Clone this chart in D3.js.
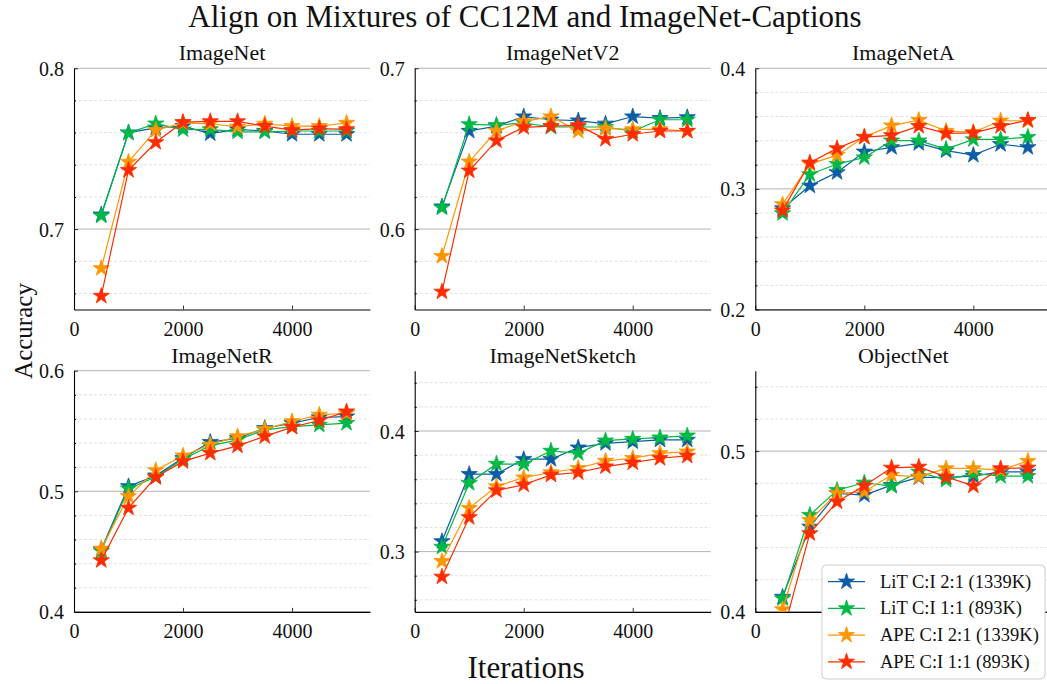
<!DOCTYPE html>
<html>
<head>
<meta charset="utf-8">
<script src="https://cdn.jsdelivr.net/npm/d3@7"></script>
<style>
  html, body { margin: 0; padding: 0; background: #fff; }
  svg { display: block; }
  svg text { font-family: "Liberation Serif", "DejaVu Serif", serif !important; fill: #111; }
</style>
</head>
<body>
<svg id="chart" width="1047" height="684"></svg>
<script>
// ---------------- DATA ----------------
const iterations = [500, 1000, 1500, 2000, 2500, 3000, 3500, 4000, 4500, 5000];
const seriesNames = ["LiT C:I 2:1 (1339K)", "LiT C:I 1:1 (893K)", "APE C:I 2:1 (1339K)", "APE C:I 1:1 (893K)"];
const seriesColors = ["#0C5DA5", "#00B945", "#FF9500", "#FF2C00"];
const panelTitles = ["ImageNet", "ImageNetV2", "ImageNetA", "ImageNetR", "ImageNetSketch", "ObjectNet"];
const xTicks = [0, 2000, 4000];

// each panel: [LiT 2:1, LiT 1:1, APE 2:1, APE 1:1]
const imageNet = [
  [0.709, 0.760, 0.763, 0.764, 0.7594, 0.762, 0.761, 0.7590, 0.759, 0.759],
  [0.7083, 0.7598, 0.7656, 0.7619, 0.762, 0.7605, 0.7605, 0.761, 0.761, 0.761],
  [0.6756, 0.7418, 0.7615, 0.766, 0.7655, 0.7636, 0.7655, 0.764, 0.764, 0.766],
  [0.6584, 0.7366, 0.754, 0.7665, 0.767, 0.767, 0.764, 0.7615, 0.7625, 0.762]
];
const imageNetV2 = [
  [0.614, 0.661, 0.664, 0.670, 0.668, 0.6675, 0.6655, 0.670, 0.669, 0.6695],
  [0.6133, 0.6651, 0.6647, 0.666, 0.6635, 0.6635, 0.6635, 0.661, 0.668, 0.668],
  [0.5832, 0.6419, 0.661, 0.667, 0.670, 0.661, 0.6625, 0.662, 0.662, 0.661],
  [0.561, 0.6363, 0.655, 0.6633, 0.664, 0.6645, 0.656, 0.659, 0.661, 0.661]
];
const imageNetA = [
  [0.2838, 0.3026, 0.3137, 0.3308, 0.3345, 0.3378, 0.3317, 0.328, 0.337, 0.3345],
  [0.2797, 0.312, 0.3206, 0.326, 0.340, 0.340, 0.333, 0.341, 0.341, 0.343],
  [0.2871, 0.3206, 0.328, 0.343, 0.3525, 0.357, 0.348, 0.347, 0.3565, 0.3565],
  [0.282, 0.3217, 0.3336, 0.343, 0.3444, 0.352, 0.346, 0.3464, 0.352, 0.357]
];
const imageNetR = [
  [0.4518, 0.5041, 0.513, 0.5275, 0.5408, 0.544, 0.5523, 0.5565, 0.5612, 0.562],
  [0.4504, 0.5022, 0.5118, 0.5267, 0.5377, 0.5427, 0.551, 0.5537, 0.555, 0.5565],
  [0.4523, 0.4959, 0.5174, 0.5295, 0.5386, 0.5455, 0.5515, 0.5579, 0.5634, 0.5647],
  [0.4427, 0.4862, 0.5116, 0.5248, 0.5317, 0.5377, 0.5455, 0.5532, 0.5587, 0.5661]
];
const imageNetSketch = [
  [0.3085, 0.3642, 0.3642, 0.3766, 0.3766, 0.3862, 0.3898, 0.3912, 0.3926, 0.3926],
  [0.3039, 0.3567, 0.3727, 0.3725, 0.3835, 0.3815, 0.392, 0.3934, 0.3945, 0.3961],
  [0.292, 0.3361, 0.354, 0.3614, 0.3656, 0.3691, 0.3752, 0.3774, 0.3815, 0.3829],
  [0.2791, 0.3284, 0.3507, 0.3554, 0.3636, 0.3656, 0.3705, 0.3738, 0.3774, 0.3793]
];
const objectNet = [
  [0.4093, 0.4529, 0.4737, 0.4726, 0.4788, 0.4836, 0.4836, 0.4844, 0.4871, 0.4871],
  [0.4083, 0.4602, 0.4757, 0.4803, 0.4782, 0.4871, 0.482, 0.4861, 0.4844, 0.4844],
  [0.4015, 0.457, 0.4737, 0.4747, 0.4851, 0.484, 0.4892, 0.4892, 0.4882, 0.4938],
  [0.386, 0.4488, 0.4685, 0.4784, 0.4896, 0.4902, 0.484, 0.4784, 0.4892, 0.4896]
];
const panelValues = [imageNet, imageNetV2, imageNetA, imageNetR, imageNetSketch, objectNet];
const yDomains = [[0.65, 0.8], [0.55, 0.7], [0.2, 0.4], [0.4, 0.6], [0.25, 0.45], [0.4, 0.55]];
const yMajorTicks = [[0.7, 0.8], [0.6, 0.7], [0.2, 0.3, 0.4], [0.4, 0.5, 0.6], [0.3, 0.4], [0.4, 0.5]];

// ---------------- LAYOUT ----------------
const FONT = '"Liberation Serif", "DejaVu Serif", serif';
const svg = d3.select("#chart");
const colLeft = [74, 414.7, 755.3];
const rowTop = [68.3, 370.7];
const pw = 296, ph = 241.2;
const star = d3.symbol().type(d3.symbolStar).size(82);
// legend box (drawn last, covers part of the ObjectNet panel)
const legendBox = { x: 822, y: 565, w: 223, h: 114 };

svg.append("text").attr("x", 525).attr("y", 27).attr("text-anchor", "middle")
  .style("font-family", FONT).style("font-size", "31px").text("Align on Mixtures of CC12M and ImageNet-Captions");
svg.append("text").attr("transform", "translate(31.5,331) rotate(-90)").attr("text-anchor", "middle")
  .style("font-family", FONT).style("font-size", "25px").text("Accuracy");
svg.append("text").attr("x", 526).attr("y", 678).attr("text-anchor", "middle")
  .style("font-family", FONT).style("font-size", "31px").text("Iterations");

panelTitles.forEach((title, i) => {
  const ox = colLeft[i % 3], oy = rowTop[Math.floor(i / 3)];
  const g = svg.append("g").attr("transform", `translate(${ox},${oy})`);
  const x = d3.scaleLinear().domain([0, 5430]).range([0, pw]);
  const y = d3.scaleLinear().domain(yDomains[i]).range([ph, 0]);

  const clipId = "clip" + i;
  g.append("clipPath").attr("id", clipId).append("rect")
    .attr("x", 0).attr("y", 0).attr("width", pw).attr("height", ph);

  // minor grid every 0.02
  const [d0, d1] = yDomains[i];
  const minor = d3.range(Math.round(d0 * 50), Math.round(d1 * 50) + 1)
    .map(k => k / 50)
    .filter(v => v > d0 + 1e-9 && v < d1 - 1e-9 && !yMajorTicks[i].some(m => Math.abs(m - v) < 1e-9));
  g.selectAll(".minor").data(minor).enter().append("line")
    .attr("x1", 0).attr("x2", pw).attr("y1", d => y(d)).attr("y2", d => y(d))
    .attr("stroke", "#d9d9d9").attr("stroke-width", 0.8).attr("stroke-dasharray", "3,2");
  g.selectAll(".major").data(yMajorTicks[i]).enter().append("line")
    .attr("x1", 0).attr("x2", pw).attr("y1", d => y(d)).attr("y2", d => y(d))
    .attr("stroke", "#b3b3b3").attr("stroke-width", 1);

  // axes (inward ticks)
  const yAxis = d3.axisLeft(y).tickValues(yMajorTicks[i]).tickFormat(d3.format(".1f"))
    .tickSizeInner(-4).tickSizeOuter(0).tickPadding(10);
  const ya = g.append("g").call(yAxis);
  const yMinorAxis = d3.axisLeft(y).tickValues(minor).tickFormat("").tickSizeInner(-2).tickSizeOuter(0);
  g.append("g").call(yMinorAxis).select(".domain").remove();
  // x tick labels that sit fully under the legend are hidden in the reference
  const xFmt = d => {
    const px = ox + x(d), py = oy + ph + 20;
    const under = px - 20 > legendBox.x && px + 20 < legendBox.x + legendBox.w &&
                  py > legendBox.y && py < legendBox.y + legendBox.h;
    return under ? "" : d3.format("d")(d);
  };
  const xAxis = d3.axisBottom(x).tickValues(xTicks).tickSizeInner(-4).tickSizeOuter(0).tickPadding(12)
    .tickFormat(xFmt);
  const xa = g.append("g").attr("transform", `translate(0,${ph})`).call(xAxis);
  [ya, xa].forEach(a => {
    a.attr("font-family", null).attr("font-size", null);
    a.select(".domain").attr("stroke", "#000").attr("stroke-width", 1.1);
    a.selectAll(".tick line").attr("stroke", "#000").attr("stroke-width", 0.8);
    a.selectAll(".tick text").style("font-size", "20px").style("font-family", FONT).attr("fill", "#111");
  });
  ya.selectAll(".tick text").attr("dy", "0.35em");

  g.append("text").attr("x", pw / 2).attr("y", -8).attr("text-anchor", "middle")
    .style("font-family", FONT).style("font-size", "22px").text(title);

  const plot = g.append("g").attr("clip-path", `url(#${clipId})`);
  const line = d3.line().x((d, k) => x(iterations[k])).y(d => y(d));
  panelValues[i].forEach((vals, s) => {
    plot.append("path").datum(vals).attr("d", line).attr("fill", "none")
      .attr("stroke", seriesColors[s]).attr("stroke-width", 1.2);
    plot.selectAll(null).data(vals).enter().append("path")
      .attr("d", star)
      .attr("transform", (d, k) => `translate(${x(iterations[k])},${y(d)})`)
      .attr("fill", seriesColors[s]).attr("stroke", seriesColors[s]).attr("stroke-width", 0.8);
  });
});

// ---------------- LEGEND ----------------
const lg = svg.append("g").attr("transform", `translate(${legendBox.x},${legendBox.y})`);
lg.append("rect").attr("x", 0).attr("y", 0).attr("width", legendBox.w).attr("height", legendBox.h).attr("rx", 4)
  .attr("fill", "#fff").attr("fill-opacity", 1).attr("stroke", "#cccccc").attr("stroke-width", 1);
seriesNames.forEach((name, s) => {
  const cy = 16.7 + s * 26.7;
  lg.append("line").attr("x1", 6).attr("x2", 43).attr("y1", cy).attr("y2", cy)
    .attr("stroke", seriesColors[s]).attr("stroke-width", 1.2);
  lg.append("path").attr("d", star).attr("transform", `translate(24.5,${cy})`)
    .attr("fill", seriesColors[s]).attr("stroke", seriesColors[s]).attr("stroke-width", 0.8);
  lg.append("text").attr("x", 58).attr("y", cy + 6)
    .style("font-family", FONT).style("font-size", "18.5px").text(name);
});
</script>
</body>
</html>
